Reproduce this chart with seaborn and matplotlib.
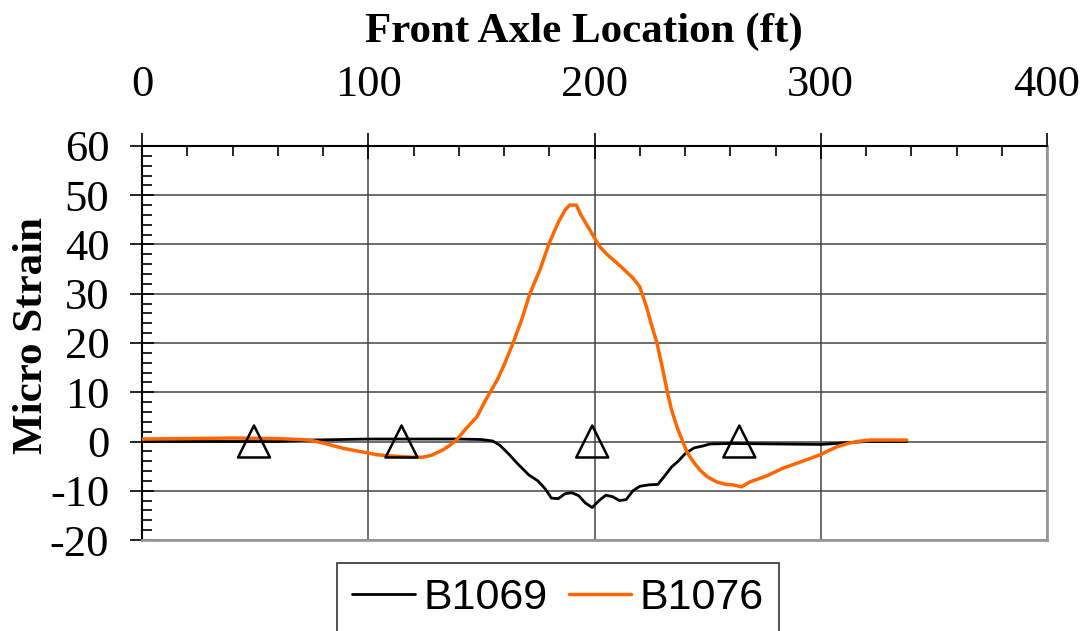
import matplotlib
matplotlib.use("Agg")
import matplotlib.pyplot as plt
from matplotlib.ticker import MultipleLocator
import seaborn as sns
import pandas as pd

# Front axle position (ft) and micro strain readings for each gauge
b1069_x = [0, 20, 40, 60, 75, 100, 120, 140, 150, 155, 158, 162, 166, 171, 175,
           178, 181, 184, 187, 190, 193, 196, 199, 202, 205, 208, 211, 214, 217,
           220, 224, 228, 231, 234, 237, 240, 244, 248, 251, 260, 280, 300, 310,
           320, 338]
b1069_y = [0, 0, 0, 0, 0.3, 0.5, 0.5, 0.5, 0.4, 0.1, -0.7, -2.5, -4.5, -6.8, -8.0,
           -9.5, -11.5, -11.6, -10.6, -10.4, -11.0, -12.5, -13.4, -12.0, -10.9, -11.2,
           -12.0, -11.8, -10.0, -9.1, -8.8, -8.7, -7.0, -5.2, -4.0, -2.5, -1.3, -0.9,
           -0.5, -0.4, -0.5, -0.6, -0.3, 0, 0]

b1076_x = [0, 20, 40, 60, 70, 74, 80, 89, 96, 104, 112, 120, 124, 128, 133, 136,
           139, 143, 148, 152, 157, 160, 164, 168, 171.5, 176, 180, 184, 187, 189,
           192, 194, 198, 202.4, 206, 210, 214, 217, 220, 223, 225, 227.6, 230, 232,
           234, 236.5, 239, 241, 244, 246.6, 250, 254, 258, 261, 265, 268.7, 276,
           283.4, 292, 299.7, 307, 312, 316, 322, 330, 338]
b1076_y = [0.5, 0.6, 0.7, 0.6, 0.4, 0.3, -0.3, -1.4, -2.0, -2.7, -3.0, -3.2, -3.2,
           -2.8, -1.7, -0.8, 0.3, 2.5, 5.0, 8.5, 12.5, 15.5, 20.0, 25.0, 30.1, 35.0,
           40.3, 44.5, 47.0, 48.0, 48.0, 46.0, 42.9, 39.5, 37.8, 36.2, 34.5, 33.2,
           31.4, 27.3, 24.0, 20.0, 15.0, 10.5, 6.5, 2.9, 0, -2.3, -4.3, -5.8, -7.2,
           -8.2, -8.7, -8.8, -9.2, -8.2, -7.0, -5.4, -4.0, -2.7, -1.1, -0.4, 0, 0.3,
           0.3, 0.3]

# Pier / support locations marked along the zero line
support_x = [49.5, 114.7, 199.0, 264.0]
support_y = [0, 0, 0, 0]

x_ticks = [0, 100, 200, 300, 400]
y_ticks = [-20, -10, 0, 10, 20, 30, 40, 50, 60]

sns.set_style("white")
plt.rcParams["font.family"] = ["Liberation Serif", "DejaVu Serif"]
plt.rcParams["axes.unicode_minus"] = False
plt.rcParams["text.color"] = "black"
plt.rcParams["axes.labelcolor"] = "black"
plt.rcParams["xtick.color"] = "black"
plt.rcParams["ytick.color"] = "black"

fig = plt.figure(figsize=(10.89, 6.31), dpi=100)
ax = fig.add_axes([142 / 1089, 1 - 540 / 631, 905 / 1089, 394 / 631])

df1 = pd.DataFrame({"x": b1069_x, "y": b1069_y})
df2 = pd.DataFrame({"x": b1076_x, "y": b1076_y})
sns.lineplot(data=df1, x="x", y="y", ax=ax, color="black", lw=2.0,
             estimator=None, sort=False, label="B1069", zorder=3)
sns.lineplot(data=df2, x="x", y="y", ax=ax, color="#FF6600", lw=2.5,
             estimator=None, sort=False, label="B1076", zorder=4)
sns.scatterplot(x=support_x, y=support_y, ax=ax, marker="^", s=530,
                facecolors="none", edgecolor="black", linewidth=1.8,
                legend=False, zorder=5)

ax.set_xlim(0, 400)
ax.set_ylim(-20, 60)
ax.set_xticks(x_ticks)
ax.set_yticks(y_ticks)
ax.xaxis.set_minor_locator(MultipleLocator(20))
ax.yaxis.set_minor_locator(MultipleLocator(2))

ax.xaxis.tick_top()
ax.xaxis.set_label_position("top")
ax.grid(True, which="major", color="#444444", lw=1.1)
ax.set_axisbelow(True)

ax.tick_params(axis="x", which="major", direction="inout", length=19, width=1.2,
               color="black", labelcolor="black", labelsize=32, pad=20,
               top=True, bottom=False)
ax.tick_params(axis="x", which="minor", direction="in", length=7, width=1.2,
               color="black", top=True, bottom=False)
ax.tick_params(axis="y", which="major", direction="inout", length=17, width=1.2,
               color="black", labelcolor="black", labelsize=32, pad=15,
               left=True, right=False)
ax.tick_params(axis="y", which="minor", direction="in", length=7, width=1.2,
               color="black", left=True, right=False)

for side in ["top", "left"]:
    ax.spines[side].set_color("black")
    ax.spines[side].set_linewidth(1.5)
for side in ["right", "bottom"]:
    ax.spines[side].set_color("#999999")
    ax.spines[side].set_linewidth(2.0)
    ax.spines[side].set_visible(True)

ax.set_xlabel("Front Axle Location (ft)", fontsize=31, fontweight="bold",
              color="black")
ax.set_ylabel("Micro Strain", fontsize=31, fontweight="bold", color="black")
ax.xaxis.set_label_coords(0.488, 1.264)
ax.yaxis.set_label_coords(-0.101, 0.52)

ax.legend(loc="upper left", bbox_to_anchor=(337 / 1089, 1 - 563 / 631),
          bbox_transform=fig.transFigure, ncol=2, frameon=True, fancybox=False,
          edgecolor="black", borderaxespad=0, borderpad=0.35, handlelength=1.45,
          handletextpad=0.2, columnspacing=0.5,
          prop={"family": "Liberation Sans", "size": 31})
ax.get_legend().get_frame().set_linewidth(1.2)

fig.savefig("out.png", dpi=100)
